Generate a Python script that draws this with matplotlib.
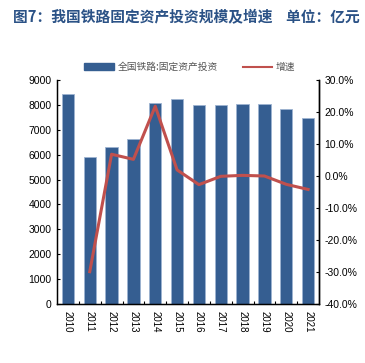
import matplotlib
matplotlib.use("Agg")
import matplotlib.pyplot as plt
from matplotlib.patches import Patch
from matplotlib.lines import Line2D
import numpy as np

plt.rcParams['font.family'] = ['Liberation Sans', 'Noto Sans CJK SC', 'DejaVu Sans']

years = ["2010", "2011", "2012", "2013", "2014", "2015", "2016", "2017", "2018", "2019", "2020", "2021"]
investment = [8426, 5906, 6309, 6638, 8088, 8238, 8015, 8010, 8028, 8029, 7819, 7489]
growth = [None, -29.9, 6.8, 5.2, 21.8, 1.9, -2.7, -0.1, 0.2, 0.0, -2.6, -4.2]

title = "图7：我国铁路固定资产投资规模及增速    单位：亿元"
bar_label = "全国铁路:固定资产投资"
line_label = "增速"

W, H = 365, 363
fig = plt.figure(figsize=(W / 100, H / 100), dpi=100)
ax = fig.add_axes([57 / W, 1 - 304 / H, (319 - 57) / W, (304 - 80) / H])

x = np.arange(len(years))
ax.bar(x, investment, width=0.56, color='#355E91', edgecolor='#9DB3D1', linewidth=0.6, zorder=2)
ax.set_xlim(-0.5, len(years) - 0.5)
ax.set_ylim(0, 9000)
ax.set_yticks(np.arange(0, 9001, 1000))
ax.set_xticks(x)
ax.set_xticklabels(years, rotation=270, fontsize=7)
ax.tick_params(axis='x', length=0, pad=5)
ax.set_xticks(np.arange(0.5, len(years) - 0.5, 1), minor=True)
ax.tick_params(axis='x', which='minor', direction='in', length=2, width=0.8)
ax.tick_params(axis='y', direction='in', length=2, labelsize=7.5, pad=4)
ax.spines['top'].set_visible(False)
for s in ['left', 'bottom', 'right']:
    ax.spines[s].set_linewidth(1.0)
    ax.spines[s].set_color('#000000')

ax2 = ax.twinx()
gx = [i for i, g in enumerate(growth) if g is not None]
gy = [g for g in growth if g is not None]
ax2.plot(gx, gy, color='#C0504D', linewidth=2.2, zorder=3)
ax2.set_ylim(-40, 30)
ax2.set_yticks(np.arange(-40, 31, 10))
ax2.set_yticklabels([f"{v:.1f}%" for v in np.arange(-40, 31, 10)])
ax2.tick_params(axis='y', direction='in', length=2, labelsize=7.5, pad=4)
ax2.spines['top'].set_visible(False)
ax2.spines['right'].set_linewidth(1.0)

handles = [Patch(facecolor='#355E91', edgecolor='#355E91'),
           Line2D([0], [0], color='#C0504D', linewidth=1.5)]
leg = fig.legend(handles, [bar_label, line_label], loc='center', bbox_to_anchor=(190 / W, 1 - 67 / H),
                 ncol=2, frameon=False, fontsize=7, handlelength=3.0, handleheight=0.6,
                 columnspacing=2.6, handletextpad=0.4,
                 prop={'family': ['Noto Sans CJK SC'], 'size': 7})
for t in leg.get_texts():
    t.set_color('#555555')

fig.text(13 / W, 1 - 17 / H, title, fontsize=10.6, fontweight='bold', color='#2B5286',
         va='center', ha='left', family=['Noto Sans CJK SC', 'DejaVu Sans'])

fig.savefig("out.png", dpi=100)
